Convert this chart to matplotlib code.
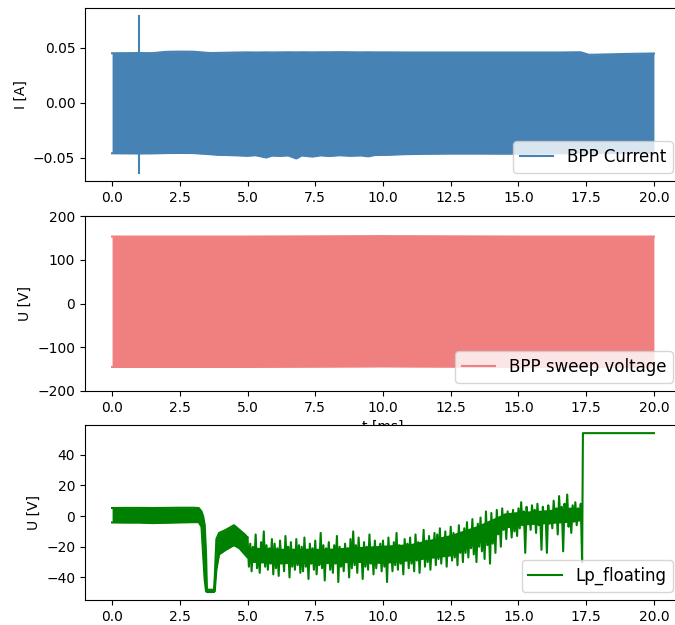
import numpy as np
import matplotlib
matplotlib.use("Agg")
import matplotlib.pyplot as plt

# BPP current: envelope of the fast sweep response [A]
cur_t = [0.0, 0.5, 1.0, 1.5, 2.0, 2.5, 3.0, 3.6, 3.9, 4.3, 4.7, 5.0, 5.3, 5.7, 5.9, 6.2,
         6.5, 6.8, 7.0, 7.4, 7.7, 8.0, 8.4, 8.8, 9.2, 9.45, 9.7, 10.2, 10.8, 11.5, 12.5,
         13.5, 14.5, 15.5, 16.5, 17.3, 17.6, 18.0, 19.0, 20.0]
cur_hi = [0.0448, 0.0449, 0.0450, 0.0449, 0.0461, 0.0463, 0.0462, 0.0450, 0.0451, 0.0453,
          0.0455, 0.0456, 0.0455, 0.0456, 0.0455, 0.0456, 0.0457, 0.0456, 0.0457, 0.0456,
          0.0457, 0.0457, 0.0458, 0.0457, 0.0456, 0.0457, 0.0456, 0.0456, 0.0455, 0.0455,
          0.0455, 0.0455, 0.0455, 0.0455, 0.0455, 0.0457, 0.0434, 0.0436, 0.0442, 0.0446]
cur_lo = [-0.0458, -0.0459, -0.0460, -0.0459, -0.0456, -0.0455, -0.0456, -0.0466, -0.0472,
          -0.0474, -0.0478, -0.0481, -0.0476, -0.0496, -0.0479, -0.0482, -0.0478, -0.0505,
          -0.0478, -0.0488, -0.0477, -0.0483, -0.0476, -0.0481, -0.0478, -0.0486, -0.0474,
          -0.0472, -0.0466, -0.0463, -0.0461, -0.0461, -0.0462, -0.0460, -0.0458, -0.0457,
          -0.0455, -0.0456, -0.0455, -0.0455]
spike_t = [1.0, 1.0]
spike_i = [-0.0638, 0.0787]

# BPP sweep voltage envelope [V]
volt_t = [0.0, 5.0, 10.0, 15.0, 20.0]
volt_hi = [153, 153, 154, 153, 153]
volt_lo = [-145, -145, -144, -145, -145]

# floating potential, dense part (0 - 5 ms) as envelope [V]
lp_env_t = [0.0, 0.5, 1.0, 1.5, 2.0, 2.5, 3.0, 3.2, 3.3, 3.36, 3.42, 3.47, 3.5, 3.76,
            3.79, 3.85, 3.95, 4.2, 4.5, 4.7, 4.9, 5.0]
lp_env_hi = [5.2, 5.3, 5.3, 5.2, 5.3, 5.4, 5.4, 5.2, 3.0, 0.0, -6.0, -25.0, -48.0, -48.0,
             -40.0, -15.0, -11.0, -9.0, -6.0, -9.0, -12.0, -14.0]
lp_env_lo = [-4.2, -4.3, -4.3, -4.6, -4.4, -4.2, -4.0, -4.0, -7.0, -25.0, -42.0, -49.0,
             -49.5, -49.5, -49.0, -35.0, -25.0, -22.0, -19.0, -21.0, -25.0, -27.0]

# solid core of the noisy part [V]
lp_core_t = [5.0, 6.0, 7.0, 8.0, 9.0, 10.0, 11.0, 12.0, 12.5, 13.0, 13.5, 14.0, 14.5,
             15.0, 16.0, 17.0, 17.3]
lp_core_hi = [-20, -21, -21, -21, -20, -19, -18, -14, -12, -9, -6, -2, 2, 3, 4, 6, 5]
lp_core_lo = [-30, -31, -31, -31, -30, -31, -29, -27, -26, -22, -18, -12, -8, -6, -5, -4, -3]

# floating potential, noisy part sampled every 0.05 ms from 5.0 ms [V]
lp_noise = [
    -14, -33, -18, -36, -20, -30, -12, -34, -22, -37, -17, -29, -10, -33, -19, -35, -21, -31, -15, -38,
    -18, -34, -21, -39, -16, -31, -23, -36, -13, -30, -20, -40, -17, -33, -22, -35, -15, -32, -19, -37,
    -20, -36, -14, -33, -22, -41, -18, -31, -21, -35, -16, -38, -23, -32, -11, -34, -19, -42, -21, -30,
    -17, -35, -22, -37, -19, -31, -13, -43, -20, -33, -24, -36, -18, -30, -21, -40, -15, -34, -10, -32,
    -19, -37, -14, -30, -22, -41, -17, -33, -20, -35, -12, -31, -21, -38, -16, -34, -23, -29, -18, -36,
    -16, -33, -20, -43, -14, -30, -21, -36, -17, -32, -11, -35, -19, -31, -22, -38, -15, -29, -18, -34,
    -14, -31, -19, -36, -12, -29, -17, -37, -20, -28, -9, -33, -16, -30, -13, -35, -18, -27, -11, -32,
    -12, -28, -8, -31, -15, -26, -10, -33, -14, -25, -7, -29, -11, -27, -13, -32, -6, -24, -12, -30,
    -8, -24, -4, -27, -10, -21, -2, -25, -9, -30, -5, -20, -1, -23, -7, -28, 3, -19, -4, -31,
    2, -18, -3, -24, 4, -12, -1, -20, 5, -9, 1, -15, 3, -7, -2, -14, 4, -10, 0, -13,
    5, -8, 9, -6, 3, -24, 6, -5, 2, -9, 7, -4, 4, -11, 8, -6, 1, -22, 6, -3,
    3, -24, 7, -5, 2, -8, 10, -3, 5, -12, 13, -4, 6, -23, 8, -2, 14, -7, 4, -11,
    7, -3, 9, -6, 5, -2, 8,
]
lp_tail_t = [17.35, 17.38, 20.0]
lp_tail_v = [-30, 54, 54]

x_ticks = [0.0, 2.5, 5.0, 7.5, 10.0, 12.5, 15.0, 17.5, 20.0]

fig = plt.figure(figsize=(6.75, 6.25), dpi=100)
ax1 = fig.add_axes([0.1259, 0.7104, 0.8830, 0.2768])
ax2 = fig.add_axes([0.1259, 0.3744, 0.8830, 0.2800])
ax3 = fig.add_axes([0.1259, 0.0400, 0.8830, 0.2800])

# current
c1 = "steelblue"
ax1.fill_between(cur_t, cur_lo, cur_hi, color=c1, lw=0)
ax1.plot(cur_t, cur_hi, color=c1, lw=1.5, label="BPP Current")
ax1.plot(cur_t, cur_lo, color=c1, lw=1.5)
ax1.plot(spike_t, spike_i, color=c1, lw=1.5)
ax1.set_ylabel("I [A]")
ax1.set_yticks([-0.05, 0.0, 0.05])
ax1.set_ylim(-0.0709, 0.0858)
ax1.legend(loc="lower right", fontsize=12)

# sweep voltage
c2 = "lightcoral"
ax2.fill_between(volt_t, volt_lo, volt_hi, color=c2, lw=0)
ax2.plot(volt_t, volt_hi, color=c2, lw=1.5, label="BPP sweep voltage")
ax2.plot(volt_t, volt_lo, color=c2, lw=1.5)
ax2.set_ylabel("U [V]")
ax2.set_xlabel("t [ms]")
ax2.set_ylim(-200, 200)
ax2.set_yticks([-200, -100, 0, 100, 200])
ax2.legend(loc="lower right", fontsize=12)

# floating potential
c3 = "green"
noise_t = 5.0 + 0.05 * np.arange(len(lp_noise))
ax3.fill_between(lp_env_t, lp_env_lo, lp_env_hi, color=c3, lw=0)
ax3.plot(lp_env_t, lp_env_hi, color=c3, lw=1.5)
ax3.plot(lp_env_t, lp_env_lo, color=c3, lw=1.5)
ax3.fill_between(lp_core_t, lp_core_lo, lp_core_hi, color=c3, lw=0)
line_t = np.concatenate([[lp_env_t[-1]], noise_t, lp_tail_t])
line_v = np.concatenate([[lp_env_hi[-1]], lp_noise, lp_tail_v])
ax3.plot(line_t, line_v, color=c3, lw=1.5, label="Lp_floating")
ax3.set_ylabel("U [V]")
ax3.set_yticks([-40, -20, 0, 20, 40])
ax3.set_ylim(-54.7, 59.3)
ax3.legend(loc="lower right", fontsize=12)

for ax in (ax1, ax2, ax3):
    ax.set_xlim(-1.0, 21.0)
    ax.set_xticks(x_ticks)

fig.savefig("out.png", dpi=100)
